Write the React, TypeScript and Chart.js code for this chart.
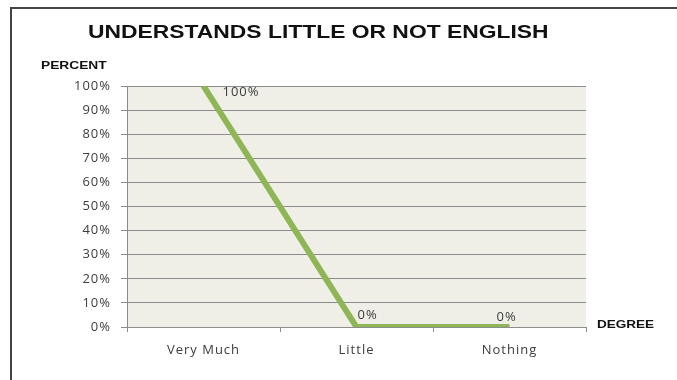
import React, { useEffect, useRef } from 'react';
import { Chart, registerables } from 'chart.js';

Chart.register(...registerables);

// ---- data ----
const categories: string[] = ['Very Much', 'Little', 'Nothing'];
const percentValues: number[] = [100, 0, 0];
const pointLabels: string[] = ['100%', '0%', '0%'];
const yTickValues: number[] = [0, 10, 20, 30, 40, 50, 60, 70, 80, 90, 100];
const yTickLabels: string[] = ['0%', '10%', '20%', '30%', '40%', '50%', '60%', '70%', '80%', '90%', '100%'];
const chartTitle = 'UNDERSTANDS LITTLE OR NOT ENGLISH';
const yAxisTitle = 'PERCENT';
const xAxisTitle = 'DEGREE';

// ---- styles ----
const LINE_COLOR = '#8FB656';
const GRID_COLOR = '#8c8c8c';
const PLOT_BG = '#EFEFE7';
const TEXT_COLOR = '#3c3c3c';
const TICK_FONT = { family: '"Open Sans", sans-serif', size: 13 };
// label placement relative to each point (dx to left edge, dy to middle)
const LABEL_OFFSETS: [number, number][] = [[19, 6], [1, -12], [-13, -10]];

export default function App() {
  const ref = useRef<HTMLCanvasElement>(null);

  useEffect(() => {
    const canvas = ref.current;
    if (!canvas) return;

    const setSpacing = (chart: any) => {
      try { (chart.ctx as any).letterSpacing = '1px'; } catch (e) { /* ignore */ }
    };

    const excelPlugin = {
      id: 'excelPlugin',
      beforeUpdate: (chart: any) => setSpacing(chart),
      beforeLayout: (chart: any) => setSpacing(chart),
      beforeDraw: (chart: any) => {
        setSpacing(chart);
        const { ctx, chartArea } = chart;
        ctx.save();
        ctx.fillStyle = PLOT_BG;
        ctx.fillRect(chartArea.left, chartArea.top, chartArea.right - chartArea.left, chartArea.bottom - chartArea.top);
        ctx.restore();
      },
      afterDatasetsDraw: (chart: any) => {
        const { ctx } = chart;
        const meta = chart.getDatasetMeta(0);
        ctx.save();
        ctx.font = `${TICK_FONT.size}px ${TICK_FONT.family}`;
        ctx.fillStyle = TEXT_COLOR;
        ctx.textAlign = 'left';
        ctx.textBaseline = 'middle';
        meta.data.forEach((pt: any, i: number) => {
          const [dx, dy] = LABEL_OFFSETS[i] || [0, 0];
          ctx.fillText(pointLabels[i], pt.x + dx, pt.y + dy);
        });
        ctx.restore();
      },
    };

    const chart = new Chart(canvas, {
      type: 'line',
      data: {
        labels: categories,
        datasets: [
          {
            data: percentValues,
            borderColor: LINE_COLOR,
            backgroundColor: LINE_COLOR,
            borderWidth: 6,
            pointRadius: 0,
            pointHoverRadius: 0,
            tension: 0,
            fill: false,
            clip: 0,
          } as any,
        ],
      },
      options: {
        animation: false,
        responsive: false,
        devicePixelRatio: 1,
        layout: { padding: { top: 86, right: 91, bottom: 0, left: 0 } },
        plugins: {
          legend: { display: false },
          title: { display: false },
          tooltip: { enabled: false },
        },
        scales: {
          x: {
            type: 'category',
            offset: true,
            grid: {
              drawOnChartArea: false,
              drawTicks: true,
              tickLength: 5,
              offset: true,
              color: GRID_COLOR,
            },
            border: { display: true, color: GRID_COLOR },
            ticks: { font: TICK_FONT, color: TEXT_COLOR, padding: 10, maxRotation: 0 },
            afterFit: (scale: any) => { scale.height = 53; },
          },
          y: {
            min: 0,
            max: 100,
            afterBuildTicks: (scale: any) => {
              scale.ticks = yTickValues.map((v) => ({ value: v }));
            },
            ticks: {
              font: TICK_FONT,
              color: TEXT_COLOR,
              padding: 10,
              callback: (_v: any, i: number) => yTickLabels[i],
            },
            grid: { color: GRID_COLOR, drawTicks: true, tickLength: 6 },
            border: { display: true, color: GRID_COLOR },
            afterFit: (scale: any) => { scale.width = 127; },
          },
        },
      },
      plugins: [excelPlugin],
    });

    return () => chart.destroy();
  }, []);

  const boldText = (extra: React.CSSProperties): React.CSSProperties => ({
    position: 'absolute',
    fontFamily: '"Liberation Sans", Arial, sans-serif',
    fontWeight: 'bold',
    color: '#111',
    lineHeight: 1,
    whiteSpace: 'nowrap',
    transformOrigin: 'left top',
    ...extra,
  });

  return (
    <div style={{ position: 'absolute', left: 0, top: 0, width: 677, height: 380, background: '#fff', overflow: 'hidden' }}>
      <div
        style={{
          position: 'absolute',
          left: 10,
          top: 7,
          width: 700,
          height: 400,
          borderLeft: '2px solid #444',
          borderTop: '2px solid #444',
          boxSizing: 'border-box',
        }}
      />
      <canvas ref={ref} width={677} height={380} style={{ position: 'absolute', left: 0, top: 0, width: 677, height: 380 }} />
      <div style={boldText({ left: 88, top: 23, fontSize: 18, transform: 'scaleX(1.27)' })}>{chartTitle}</div>
      <div style={boldText({ left: 41, top: 60, fontSize: 11, transform: 'scaleX(1.25)' })}>{yAxisTitle}</div>
      <div style={boldText({ left: 597, top: 319, fontSize: 11, transform: 'scaleX(1.23)' })}>{xAxisTitle}</div>
    </div>
  );
}
